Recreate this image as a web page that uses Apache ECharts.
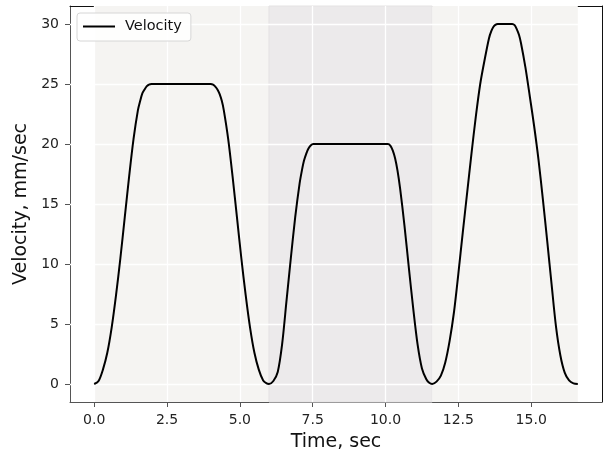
<!DOCTYPE html>
<html>
<head>
<meta charset="utf-8">
<script src="https://cdn.jsdelivr.net/npm/echarts@6/dist/echarts.min.js"></script>
<style>
html, body { margin: 0; padding: 0; background: #fff; }
#chart { width: 606px; height: 457px; }
</style>
</head>
<body>
<div id="chart"></div>
<script>
// move 1: 0 -> 25 mm/sec
var move1T = [0, 0.15, 0.3, 0.45, 0.6, 0.75, 0.9, 1.05, 1.2, 1.35, 1.5, 1.58, 1.65, 1.73, 1.8, 1.88, 1.97,
              4.0, 4.08, 4.15, 4.23, 4.3, 4.38, 4.45, 4.6, 4.75, 4.9, 5.05, 5.2, 5.35, 5.5, 5.65, 5.8, 5.92, 6.0];
var move1V = [0, 0.25, 1.2, 2.6, 4.7, 7.4, 10.5, 13.9, 17.3, 20.4, 22.8, 23.6, 24.2, 24.55, 24.8, 24.95, 25,
              25, 24.95, 24.8, 24.55, 24.2, 23.6, 22.8, 20.4, 17.3, 13.9, 10.5, 7.4, 4.7, 2.6, 1.2, 0.3, 0.05, 0];
// move 2: 0 -> 20 mm/sec
var move2T = [6.15, 6.3, 6.45, 6.6, 6.75, 6.9, 7.05, 7.13, 7.2, 7.28, 7.35, 7.43, 7.52,
              10.08, 10.17, 10.25, 10.33, 10.41, 10.5, 10.65, 10.8, 10.95, 11.1, 11.25, 11.4, 11.5, 11.6];
var move2V = [0.25, 1.0, 3.3, 6.9, 10.5, 13.9, 16.7, 17.8, 18.6, 19.2, 19.6, 19.88, 20,
              20, 19.85, 19.45, 18.8, 17.8, 16.3, 13.2, 9.7, 6.3, 3.3, 1.3, 0.4, 0.1, 0];
// move 3: 0 -> 30 mm/sec
var move3T = [11.75, 11.9, 12.05, 12.2, 12.35, 12.5, 12.65, 12.8, 12.95, 13.1, 13.25, 13.4, 13.55, 13.63, 13.7, 13.77, 13.85,
              14.35, 14.43, 14.5, 14.58, 14.65, 14.8, 14.95, 15.1, 15.25, 15.4, 15.55, 15.7, 15.85, 16.0, 16.15, 16.3, 16.45, 16.6];
var move3V = [0.2, 0.7, 1.8, 3.6, 6.0, 9.2, 12.6, 15.9, 19.2, 22.3, 25.0, 27.0, 28.8, 29.4, 29.75, 29.93, 30,
              30, 29.9, 29.6, 29.1, 28.4, 26.4, 24.0, 21.5, 18.7, 15.4, 11.9, 8.3, 4.8, 2.4, 0.95, 0.3, 0.05, 0];

var phaseEdges = [0, 6.0, 11.6, 16.6];
var phaseColors = ['#f5f4f2', '#eceaeb', '#f5f4f2'];
var xTicks = [0, 2.5, 5, 7.5, 10, 12.5, 15];
var yTicks = [0, 5, 10, 15, 20, 25, 30];

var font = 'DejaVu Sans';
var chart = echarts.init(document.getElementById('chart'));

var points = [];
[[move1T, move1V], [move2T, move2V], [move3T, move3V]].forEach(function (m) {
    for (var i = 0; i < m[0].length; i++) {
        points.push([m[0][i], m[1][i]]);
    }
});

var areas = [];
for (var i = 0; i < phaseColors.length; i++) {
    areas.push([
        { xAxis: phaseEdges[i], itemStyle: { color: phaseColors[i], borderColor: i == 1 ? '#e4e2e3' : 'transparent', borderWidth: 1 } },
        { xAxis: phaseEdges[i + 1] }
    ]);
}

// white grid lines drawn over the shaded phases, under the curve
var gridLines = [];
xTicks.forEach(function (t) { gridLines.push({ xAxis: t }); });
yTicks.forEach(function (t) { gridLines.push({ yAxis: t }); });

var option = {
    animation: false,
    textStyle: { fontFamily: font },
    grid: { left: 70, right: 4, top: 6, bottom: 54 },
    legend: {
        data: ['Velocity'],
        left: 77, top: 13, zlevel: 1,
        icon: 'rect',
        itemWidth: 32, itemHeight: 2,
        padding: [6, 9, 7, 6],
        borderColor: '#d6d6d6', borderWidth: 1, borderRadius: 3,
        backgroundColor: 'rgba(255,255,255,0.85)',
        textStyle: { fontSize: 14.5, color: '#111', fontFamily: font, padding: [1, 0, 0, 5] }
    },
    xAxis: [{
        type: 'value', min: -0.83, max: 17.43,
        name: 'Time, sec', nameLocation: 'middle', nameGap: 31,
        nameTextStyle: { fontSize: 19, color: '#111', fontFamily: font },
        axisLine: { show: true, onZero: false, lineStyle: { color: '#555', width: 1 } },
        axisTick: { show: true, length: 5, customValues: xTicks, lineStyle: { color: '#555' } },
        axisLabel: { customValues: xTicks, margin: 11, fontSize: 14, color: '#222', fontFamily: font,
                     formatter: function (v) { return v.toFixed(1); } },
        splitLine: { show: false }
    }, {
        type: 'value', min: -0.83, max: 17.43, position: 'top',
        axisLine: { show: true, onZero: false, lineStyle: { color: '#111', width: 1 } },
        axisTick: { show: false }, axisLabel: { show: false }, splitLine: { show: false }
    }],
    yAxis: [{
        type: 'value', min: -1.5, max: 31.5,
        name: 'Velocity, mm/sec', nameLocation: 'middle', nameGap: 38,
        nameTextStyle: { fontSize: 19, color: '#111', fontFamily: font },
        axisLine: { show: true, onZero: false, lineStyle: { color: '#555', width: 1 } },
        axisTick: { show: true, length: 5, customValues: yTicks, lineStyle: { color: '#555' } },
        axisLabel: { customValues: yTicks, margin: 11, fontSize: 14, color: '#222', fontFamily: font },
        splitLine: { show: false }
    }, {
        type: 'value', min: -1.5, max: 31.5, position: 'right',
        axisLine: { show: true, onZero: false, lineStyle: { color: '#111', width: 1 } },
        axisTick: { show: false }, axisLabel: { show: false }, splitLine: { show: false }
    }],
    series: [{
        type: 'line', data: [], z: 0, silent: true,
        markArea: { silent: true, data: areas }
    }, {
        type: 'line', data: [], z: 1, silent: true,
        markLine: {
            silent: true, symbol: ['none', 'none'], label: { show: false },
            lineStyle: { color: '#ffffff', width: 1.3, type: 'solid' },
            emphasis: { disabled: true },
            data: gridLines
        }
    }, {
        name: 'Velocity', type: 'line', z: 3, zlevel: 1,
        data: points,
        showSymbol: false, symbol: 'none',
        smooth: 0.3,
        lineStyle: { color: '#000', width: 2 },
        itemStyle: { color: '#000' }
    }]
};
chart.setOption(option);
</script>
</body>
</html>
